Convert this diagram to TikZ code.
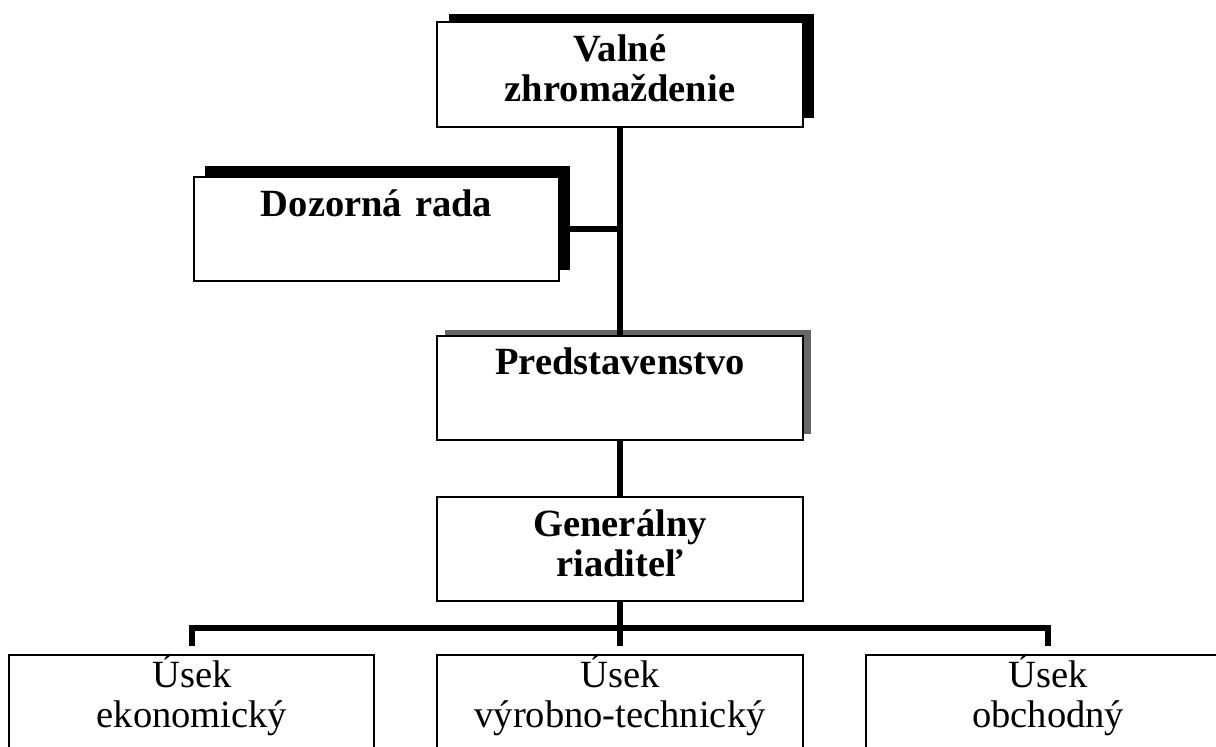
\documentclass[tikz,border=0pt]{standalone}
\usepackage{fontspec}
\setmainfont{Liberation Serif}
\usetikzlibrary{positioning, shadows}

\tikzset{
  unit/.style={draw, line width=0.05cm, fill=white,
               minimum width=9.125cm, minimum height=2.6cm,
               text width=8cm, align=center, inner sep=0pt,
               font=\fontsize{27.4pt}{28.45pt}\selectfont},
  head/.style={unit, font=\fontsize{27.4pt}{28.45pt}\selectfont\bfseries},
  link/.style={line width=0.15cm},
}

\begin{document}
\begin{tikzpicture}[x=0.025cm, y=-0.025cm]
\useasboundingbox (0,0) rectangle (1216,747);

% top of the chart
\node[head, drop shadow={shadow xshift=0.29cm, shadow yshift=0.21cm, fill=black, opacity=1}]
  (valne) at (620,74.5) {Valné\\zhromaždenie\strut};
\node[head, drop shadow={shadow xshift=0.27cm, shadow yshift=0.27cm, fill=black, opacity=1}]
  (dozorna) at (376.5,229) {Dozorná rada\\\strut};
\node[head, below=5.175cm of valne,
      drop shadow={shadow xshift=0.2cm, shadow yshift=0.15cm, fill=black!60, opacity=1}]
  (predst) {Predstavenstvo\\\strut};
\node[head, below=1.375cm of predst] (general) {Generálny\\riaditeľ\strut};

% departments
\node[unit, minimum height=3cm, below=1.3cm of general] (usekvyr) {Úsek\\výrobno-technický\\\strut};
\node[unit, minimum height=3cm, left=1.525cm of usekvyr] (usekeko) {Úsek\\ekonomický\\\strut};
\node[unit, minimum height=3cm, right=1.525cm of usekvyr] (usekobch) {Úsek\\obchodný\\\strut};

% connectors
\draw[link] (valne.south) -- (predst.north);
\draw[link] (dozorna.east) -- (dozorna.east -| valne.south);
\draw[link] (predst.south) -- (general.north);
\coordinate (bus) at ([yshift=-0.65cm]general.south);
\draw[link] (general.south) -- ([yshift=0.2cm]usekvyr.north);
\draw[link, line join=miter] ([yshift=0.2cm]usekeko.north) |- (bus) -| ([yshift=0.2cm]usekobch.north);
\end{tikzpicture}
\end{document}
